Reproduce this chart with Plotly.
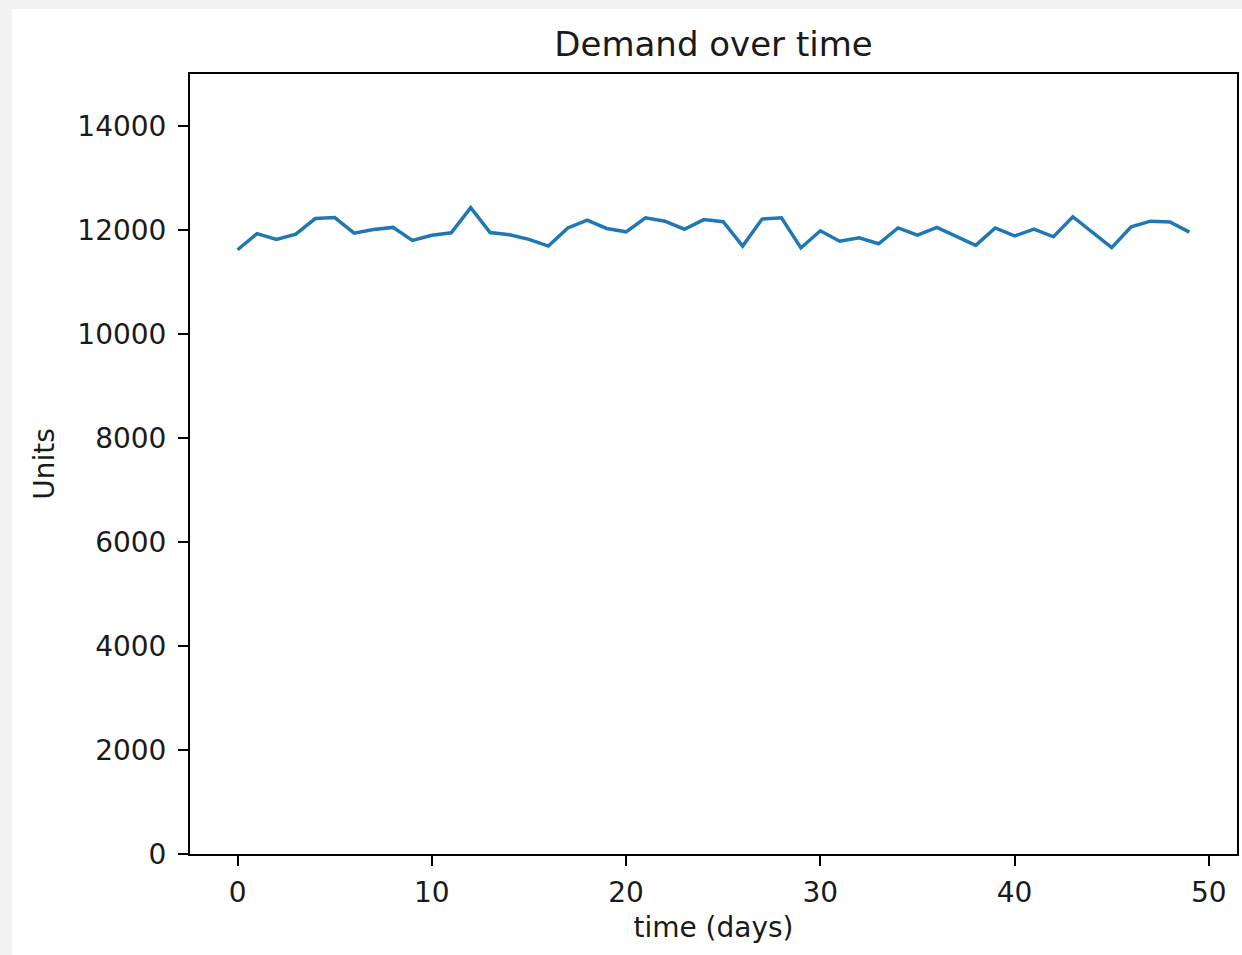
import plotly.graph_objects as go

days = list(range(50))
demand = [11620, 11930, 11820, 11920, 12220, 12240, 11940, 12010, 12050, 11800,
          11900, 11945, 12430, 11950, 11910, 11820, 11690, 12040, 12190, 12030,
          11965, 12235, 12170, 12015, 12200, 12160, 11690, 12210, 12235, 11655,
          11985, 11785, 11850, 11735, 12040, 11900, 12050, 11880, 11705, 12040,
          11885, 12015, 11870, 12255, 11960, 11660, 12060, 12170, 12155, 11960]
x_ticks = [0, 10, 20, 30, 40, 50]
y_ticks = [0, 2000, 4000, 6000, 8000, 10000, 12000, 14000]
y_tick_text = [str(v) for v in y_ticks]

W, H = 1242, 955
L, R, T, B = 190, 5, 74, 101
pw = W - L - R
ph = H - T - B

font = dict(family="DejaVu Sans", color="#1a1a1a", size=28)

fig = go.Figure()
fig.add_trace(go.Scatter(x=days, y=demand, mode="lines",
                         line=dict(color="#1f77b4", width=3.5), showlegend=False))

axis_common = dict(showline=True, linecolor="black", linewidth=2, mirror=True,
                   ticks="outside", ticklen=10, tickwidth=2, tickcolor="black",
                   showgrid=False, zeroline=False, tickfont=font)

fig.update_xaxes(range=[-2.45, 51.45], tickvals=x_ticks, ticklabelstandoff=2,
                 title=dict(text="time (days)", font=font, standoff=10), **axis_common)
fig.update_yaxes(range=[0, 15000], tickvals=y_ticks, ticktext=y_tick_text,
                 ticklabelstandoff=6,
                 title=dict(text="Units", font=font, standoff=15), **axis_common)

# white figure area inside a light-grey border
fig.add_shape(type="rect", xref="paper", yref="paper",
              x0=(12 - L) / pw, x1=(W - L) / pw, y0=-B / ph, y1=(H - B - 9) / ph,
              fillcolor="white", line=dict(width=0), layer="below")

fig.update_layout(
    width=W, height=H,
    margin=dict(l=L, r=R, t=T, b=B, autoexpand=False),
    paper_bgcolor="#f2f2f2", plot_bgcolor="white",
    font=font,
    title=dict(text="Demand over time", x=(L + pw / 2) / W, xanchor="center",
               y=1 - 44 / H, yanchor="middle",
               font=dict(family="DejaVu Sans", size=34, color="#1a1a1a")),
)

fig.write_html("out.html")
